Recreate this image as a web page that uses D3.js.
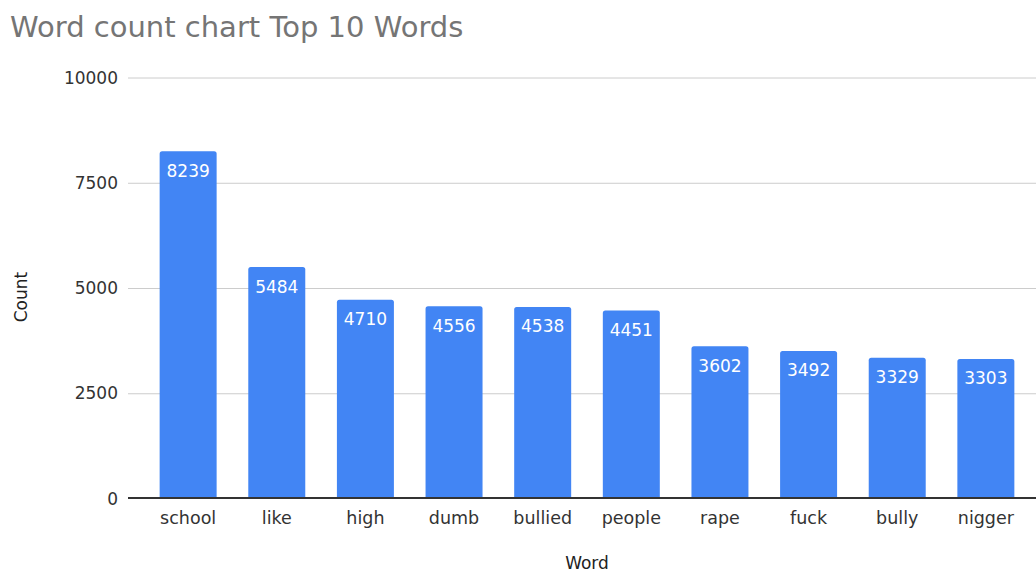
<!DOCTYPE html>
<html>
<head>
<meta charset="utf-8">
<script src="https://cdn.jsdelivr.net/npm/d3@7"></script>
<style>
  html, body { margin: 0; padding: 0; background: #fff; }
  svg { display: block; font-family: "DejaVu Sans", Verdana, sans-serif; }
</style>
</head>
<body>
<svg id="chart" width="1036" height="574"></svg>
<script>
// Top 10 words by count
const words = ["school", "like", "high", "dumb", "bullied", "people", "rape", "fuck", "bully", "nigger"];
const counts = [8239, 5484, 4710, 4556, 4538, 4451, 3602, 3492, 3329, 3303];
const yTicks = [0, 2500, 5000, 7500, 10000];

const chartTitle = "Word count chart Top 10 Words";
const xTitle = "Word";
const yTitle = "Count";

const svg = d3.select("#chart");
const plotLeft = 128, plotRight = 1046, plotTop = 77, plotBottom = 498;

const x = d3.scaleBand()
  .domain(words)
  .range([plotLeft, plotRight])
  .paddingInner(0.357)
  .paddingOuter(0.357);

const y = d3.scaleLinear()
  .domain([0, 10000])
  .range([plotBottom, plotTop]);

// Title
svg.append("text")
  .attr("x", 10)
  .attr("y", 37)
  .attr("font-size", 29)
  .attr("fill", "#757575")
  .text(chartTitle);

// Horizontal gridlines and tick labels
const yAxis = d3.axisLeft(y).tickValues(yTicks).tickSize(0).tickPadding(10).tickFormat(d3.format("d"));
const gy = svg.append("g").attr("transform", `translate(${plotLeft},0)`).call(yAxis);
gy.select(".domain").remove();
gy.selectAll(".tick text")
  .attr("font-family", "DejaVu Sans, Verdana, sans-serif")
  .attr("font-size", 17)
  .attr("fill", "#333")
  .attr("dy", "0.36em");
gy.selectAll(".tick")
  .filter(d => d !== 0)
  .append("line")
  .attr("x1", 0)
  .attr("x2", plotRight - plotLeft)
  .attr("y1", 0.5)
  .attr("y2", 0.5)
  .attr("stroke", "#cccccc")
  .attr("stroke-width", 1);

// Bars with slightly rounded top corners
const r = 2.5;
function barPath(d) {
  const x0 = x(d.word), w = x.bandwidth();
  const y0 = y(d.count), y1 = y(0);
  return `M${x0},${y1}V${y0 + r}Q${x0},${y0} ${x0 + r},${y0}H${x0 + w - r}Q${x0 + w},${y0} ${x0 + w},${y0 + r}V${y1}Z`;
}
const data = words.map((w, i) => ({ word: w, count: counts[i] }));

svg.append("g").selectAll("path")
  .data(data)
  .join("path")
  .attr("d", barPath)
  .attr("fill", "#4285f4");

// Value labels inside the top of each bar
svg.append("g").selectAll("text")
  .data(data)
  .join("text")
  .attr("x", d => x(d.word) + x.bandwidth() / 2)
  .attr("y", d => y(d.count) + 25.5)
  .attr("text-anchor", "middle")
  .attr("font-size", 17)
  .attr("fill", "#ffffff")
  .text(d => d.count);

// Baseline
svg.append("line")
  .attr("x1", plotLeft).attr("x2", plotRight)
  .attr("y1", plotBottom).attr("y2", plotBottom)
  .attr("stroke", "#333")
  .attr("stroke-width", 2);

// Category labels
const xAxis = d3.axisBottom(x).tickSize(0).tickPadding(0);
const gx = svg.append("g").attr("transform", `translate(0,${plotBottom})`).call(xAxis);
gx.select(".domain").remove();
gx.selectAll(".tick text")
  .attr("font-family", "DejaVu Sans, Verdana, sans-serif")
  .attr("font-size", 17.5)
  .attr("fill", "#333")
  .attr("y", 26)
  .attr("dy", 0);

// Axis titles
svg.append("text")
  .attr("x", (plotLeft + plotRight) / 2)
  .attr("y", 569)
  .attr("text-anchor", "middle")
  .attr("font-size", 17)
  .attr("fill", "#222")
  .text(xTitle);

svg.append("text")
  .attr("transform", "translate(27,297) rotate(-90)")
  .attr("text-anchor", "middle")
  .attr("font-size", 17)
  .attr("fill", "#222")
  .text(yTitle);
</script>
</body>
</html>
